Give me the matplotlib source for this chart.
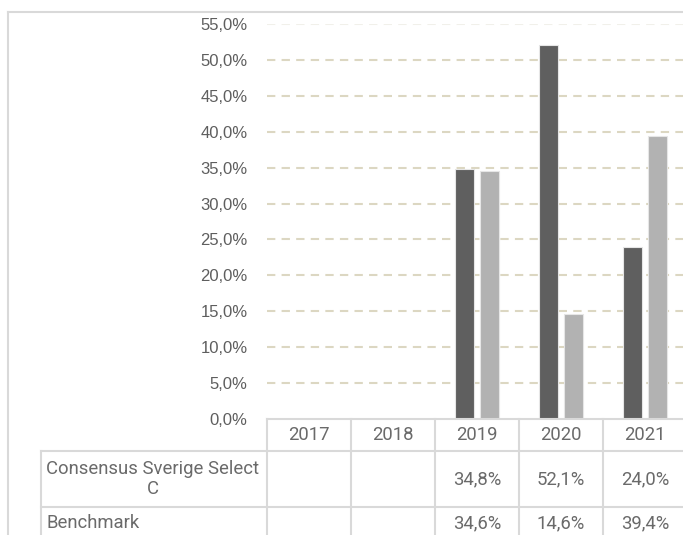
import numpy as np
import matplotlib
matplotlib.use("Agg")
import matplotlib.pyplot as plt
from matplotlib.transforms import blended_transform_factory

# ---- data -------------------------------------------------------------
years = ['2017', '2018', '2019', '2020', '2021']
consensus = [np.nan, np.nan, 34.8, 52.1, 24.0]
benchmark = [np.nan, np.nan, 34.6, 14.6, 39.4]
series_names = ['Consensus Sverige Select\nC', 'Benchmark']
y_ticks = [0, 5, 10, 15, 20, 25, 30, 35, 40, 45, 50, 55]

W, H = 683, 535
fig = plt.figure(figsize=(W / 100, H / 100), dpi=100)
fig.patch.set_facecolor('white')

# plot area in pixels (from the left / from the top)
ax_left, ax_top, ax_bottom, cell_w = 267, 24, 419, 84
ax = fig.add_axes([ax_left / W, 1 - ax_bottom / H,
                   len(years) * cell_w / W, (ax_bottom - ax_top) / H])
ax.set_xlim(-0.5, len(years) - 0.5)
ax.set_ylim(0, 55)
ax.set_facecolor('none')
for s in ax.spines.values():
    s.set_visible(False)

grid_col = '#DCD7C2'
for t in y_ticks[1:]:
    col = '#F1F0EA' if t == 55 else grid_col
    ax.axhline(t, color=col, lw=1.5, ls=(0, (4, 3)), zorder=0)

x = np.arange(len(years))
bw = 0.23
off = 0.146
ax.bar(x - off, consensus, bw, color='#5F5F5F', edgecolor='#E6E6E6', lw=0.8, zorder=2)
ax.bar(x + off, benchmark, bw, color='#B2B2B2', edgecolor='#E6E6E6', lw=0.8, zorder=2)

ax.set_xticks([])
ax.set_yticks(y_ticks)
ax.set_yticklabels([f'{t:.1f}%'.replace('.', ',') for t in y_ticks],
                   fontfamily='Liberation Sans', fontsize=12, color='#5E5E5E')
ax.tick_params(axis='y', length=0, pad=14)

# ---- outer frame --------------------------------------------------------
line_col = '#D9D9D9'
def fy(py):
    return 1 - py / H
fig.add_artist(plt.Line2D([8 / W, 8 / W], [0, fy(12)], color=line_col, lw=1.5,
                          transform=fig.transFigure))
fig.add_artist(plt.Line2D([8 / W, 1], [fy(12), fy(12)], color=line_col, lw=1.5,
                          transform=fig.transFigure))

# ---- data table ---------------------------------------------------------
tr = blended_transform_factory(ax.transData, fig.transFigure)
tf = fig.transFigure
tbl_left = 41
row_tops = [419, 451, 507, 539]

def hline(py, x0_fig):
    fig.add_artist(plt.Line2D([x0_fig, 1.05], [fy(py), fy(py)], color=line_col,
                              lw=1.5, transform=tf, clip_on=False))

hline(row_tops[0], ax_left / W)
hline(row_tops[1], tbl_left / W)
hline(row_tops[2], tbl_left / W)
# vertical lines
fig.add_artist(plt.Line2D([tbl_left / W] * 2, [fy(row_tops[1]), 0], color=line_col,
                          lw=1.5, transform=tf))
for xi in np.arange(-0.5, len(years) + 0.5, 1.0):
    fig.add_artist(plt.Line2D([xi, xi], [fy(row_tops[0]), 0], color=line_col,
                              lw=1.5, transform=tr, clip_on=False))

txt_kw = dict(fontfamily=['Roboto', 'DejaVu Sans'], fontweight='normal',
              fontsize=13.3, color='#6A6A6A')
for i, yr in enumerate(years):
    fig.text(i, fy((row_tops[0] + row_tops[1]) / 2), yr, transform=tr,
             ha='center', va='center', **txt_kw)

for r, vals in enumerate([consensus, benchmark]):
    yc = fy((row_tops[r + 1] + row_tops[r + 2]) / 2)
    fig.text((tbl_left + 5) / W, yc, series_names[r], transform=tf,
             ha='left', va='center', multialignment='center', linespacing=1.15,
             **txt_kw)
    for i, v in enumerate(vals):
        if np.isnan(v):
            continue
        fig.text(i, yc, f'{v:.1f}%'.replace('.', ','), transform=tr,
                 ha='center', va='center', **txt_kw)

fig.savefig('out.png', dpi=100)
